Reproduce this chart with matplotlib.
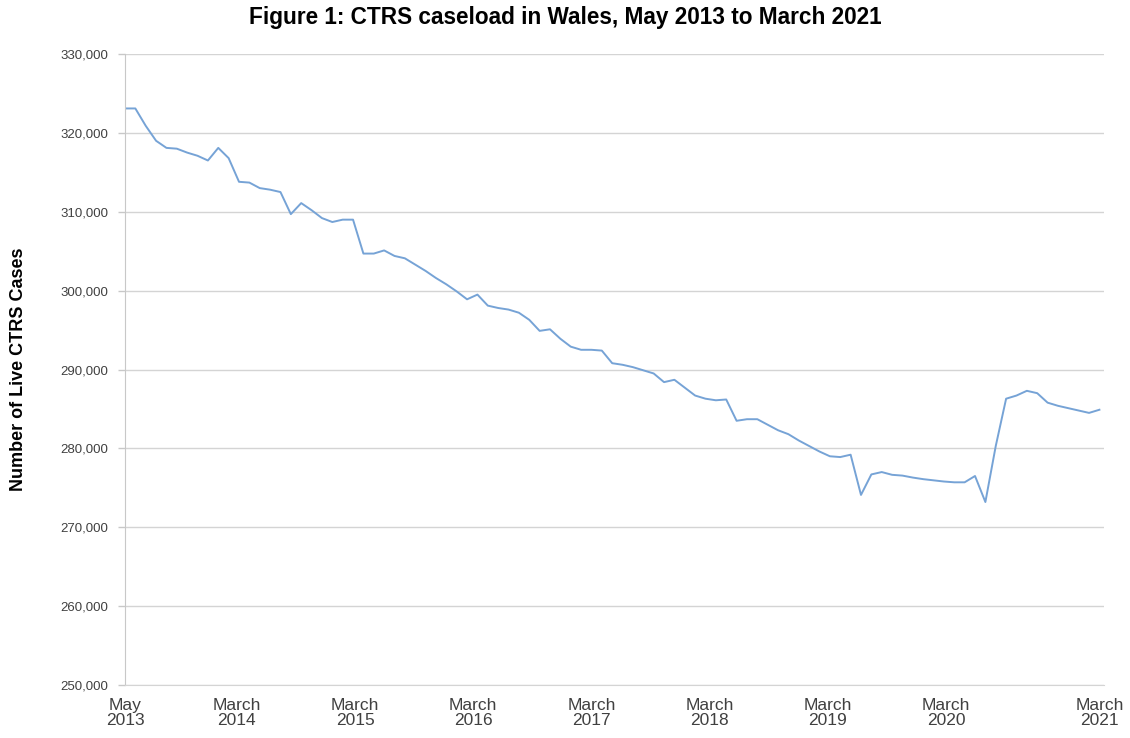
import numpy as np
import matplotlib.pyplot as plt

plt.rcParams['font.family'] = ['Liberation Sans', 'DejaVu Sans']

# monthly CTRS caseload, May 2013 to March 2021
cases = [
    323100, 323100, 320900, 319000, 318100, 318000, 317500, 317100, 316500, 318100,
    316800, 313800, 313700, 313000, 312800, 312500, 309700, 311100, 310200, 309200,
    308700, 309000, 309000, 304700, 304700, 305100, 304400, 304100, 303300, 302500,
    301600, 300800, 299900, 298900, 299500, 298100, 297800, 297600, 297200, 296300,
    294900, 295100, 293900, 292900, 292500, 292500, 292400, 290800, 290600, 290300,
    289900, 289500, 288400, 288700, 287700, 286700, 286300, 286100, 286200, 283500,
    283700, 283700, 283000, 282300, 281800, 281000, 280300, 279600, 279000, 278900,
    279200, 274100, 276700, 277000, 276650, 276550, 276300, 276100, 275950, 275800,
    275700, 275700, 276500, 273200, 280300, 286300, 286700, 287300, 287000, 285800,
    285400, 285100, 284800, 284500, 284900,
]
months = np.arange(len(cases))

tick_labels = ['May\n2013', 'March\n2014', 'March\n2015', 'March\n2016', 'March\n2017',
               'March\n2018', 'March\n2019', 'March\n2020', 'March\n2021']
tick_pos = [0, 10.8, 22.2, 33.6, 45.0, 56.4, 67.8, 79.2, 94]

fig = plt.figure(figsize=(11.3, 7.38), dpi=100)
ax = fig.add_axes([0.1106, 0.0718, 0.866, 0.855])

ax.plot(months, cases, color='#76a3d6', linewidth=1.4)

ax.set_ylim(250000, 330000)
ax.set_xlim(0, 94.4)
ax.set_yticks(np.arange(250000, 330001, 10000))
ax.yaxis.set_major_formatter(plt.FuncFormatter(lambda v, p: f'{int(v):,}'))
ax.grid(axis='y', color='#d4d4d4', linewidth=1)
ax.set_axisbelow(True)

ax.set_xticks(tick_pos)
ax.set_xticklabels(tick_labels, fontsize=12.5, color='#404040', linespacing=1.05)
ax.tick_params(axis='x', length=0, pad=9)
ax.tick_params(axis='y', labelsize=9.5, colors='#404040', length=5, width=1, color='#c8c8c8', pad=7)

for s in ['top', 'right']:
    ax.spines[s].set_visible(False)
ax.spines['left'].set_color('#c8c8c8')
ax.spines['bottom'].set_color('#d4d4d4')

ax.set_ylabel('Number of Live CTRS Cases', fontsize=13, fontweight='bold', color='black')
ax.yaxis.set_label_coords(-0.1, 0.5)
fig.suptitle('Figure 1: CTRS caseload in Wales, May 2013 to March 2021', x=0.5, y=0.992,
             fontsize=16.3, fontweight='bold', color='black')

fig.savefig('out.png', dpi=100)
